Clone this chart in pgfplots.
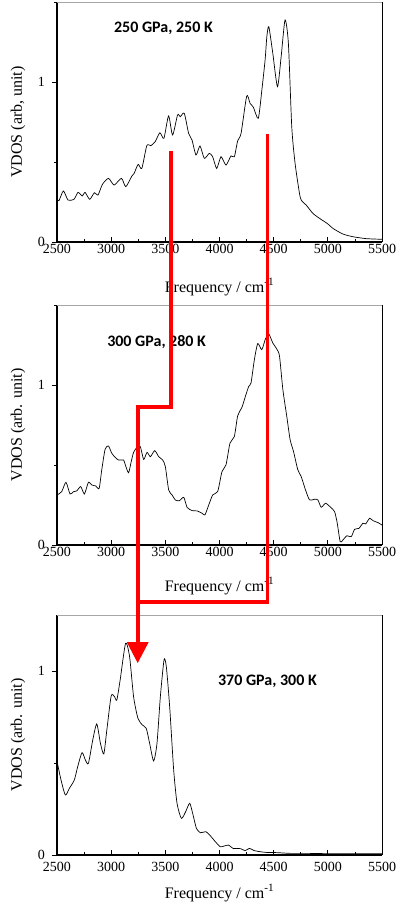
\documentclass[border=0pt]{standalone}
\usepackage{fontspec}
\setmainfont{Liberation Serif}
\newfontfamily\titlefont{Carlito}
\usepackage{pgfplots}
\pgfplotsset{compat=1.18}
\usepackage{pgfplotstable}

\pgfplotstableread{
f v
2500 0.267
2518 0.258
2559 0.319
2602 0.262
2657 0.267
2694 0.310
2734 0.288
2759 0.310
2802 0.267
2845 0.308
2879 0.294
2919 0.360
2975 0.398
3027 0.356
3095 0.398
3135 0.346
3191 0.412
3212 0.429
3249 0.485
3283 0.460
3329 0.602
3366 0.602
3406 0.627
3450 0.683
3487 0.648
3530 0.788
3567 0.669
3613 0.794
3638 0.783
3675 0.804
3715 0.679
3746 0.638
3783 0.544
3820 0.600
3860 0.523
3906 0.554
3937 0.533
3974 0.460
4014 0.533
4060 0.481
4106 0.538
4137 0.533
4168 0.633
4199 0.679
4251 0.912
4282 0.867
4313 0.842
4358 0.773
4391 0.950
4421 1.138
4437 1.283
4455 1.346
4492 1.179
4535 0.971
4569 1.158
4605 1.388
4636 1.240
4667 0.720
4698 0.490
4744 0.283
4775 0.246
4800 0.231
4862 0.179
4923 0.148
5000 0.113
5047 0.085
5139 0.050
5232 0.033
5355 0.021
5500 0.017
}\dataA

\pgfplotstableread{
f v
2500 0.313
2543 0.333
2583 0.392
2620 0.319
2651 0.333
2682 0.338
2719 0.365
2753 0.319
2790 0.392
2821 0.375
2858 0.369
2889 0.354
2913 0.469
2944 0.598
2975 0.619
3006 0.573
3037 0.548
3068 0.531
3114 0.531
3136 0.490
3161 0.452
3185 0.521
3207 0.579
3238 0.610
3269 0.615
3300 0.535
3331 0.579
3362 0.552
3402 0.590
3439 0.552
3476 0.531
3500 0.490
3531 0.344
3562 0.313
3593 0.281
3630 0.277
3670 0.298
3701 0.235
3748 0.215
3794 0.213
3840 0.198
3865 0.188
3890 0.230
3937 0.313
3983 0.334
4023 0.459
4060 0.501
4097 0.637
4137 0.678
4168 0.808
4208 0.862
4239 0.929
4270 0.992
4291 1.013
4322 1.159
4353 1.259
4390 1.221
4424 1.288
4455 1.319
4492 1.263
4532 1.221
4554 1.180
4585 0.971
4621 0.804
4652 0.658
4683 0.585
4723 0.470
4754 0.428
4794 0.344
4831 0.282
4877 0.286
4908 0.282
4939 0.236
4979 0.261
5025 0.236
5062 0.209
5087 0.136
5114 0.021
5139 0.031
5176 0.058
5216 0.052
5247 0.098
5287 0.104
5324 0.136
5349 0.132
5386 0.167
5417 0.152
5463 0.140
5500 0.125
}\dataB

\pgfplotstableread{
f v
2500 0.510
2537 0.408
2577 0.326
2614 0.362
2660 0.408
2691 0.480
2731 0.556
2762 0.516
2790 0.498
2830 0.625
2867 0.712
2901 0.607
2932 0.549
2960 0.679
3000 0.864
3031 0.860
3052 0.842
3083 0.951
3133 1.150
3170 1.078
3207 0.860
3247 0.743
3287 0.707
3324 0.688
3355 0.607
3392 0.511
3423 0.607
3454 0.860
3488 1.060
3509 1.024
3540 0.806
3577 0.462
3608 0.281
3648 0.199
3688 0.236
3725 0.281
3756 0.217
3787 0.145
3824 0.121
3873 0.127
3909 0.109
3962 0.072
4007 0.045
4044 0.049
4084 0.054
4124 0.036
4161 0.036
4197 0.034
4237 0.024
4277 0.036
4320 0.024
4375 0.018
4436 0.014
4528 0.013
4651 0.009
4804 0.009
5049 0.007
5500 0.007
}\dataC

\tikzset{ttl/.style={anchor=west, inner sep=0pt, font=\fontsize{16}{18}\selectfont\titlefont\bfseries}}

\pgfplotsset{vdos/.style={
  scale only axis, width=325pt, height=240pt,
  xmin=2500, xmax=5500, ymin=0,
  xtick={2500,3000,...,5500}, minor x tick num=1,
  ytick={0,1}, minor ytick={0.5,1.5},
  axis x line*=bottom, axis y line*=left,
  tickpos=left,
  axis line style={line width=1.1pt, -},
  xtick align=inside, ytick align=outside,
  major tick length=5pt, minor tick length=3pt,
  tick style={black, line width=0.8pt},
  clip=false,
  /pgf/number format/assume math mode=true,
  /pgf/number format/1000 sep={},
  scaled x ticks=false,
  xticklabel style={font=\fontsize{14}{15}\selectfont, inner sep=1.5pt},
  yticklabel style={font=\fontsize{14}{15}\selectfont, inner sep=1pt, xshift=-6pt},
  xlabel={Frequency / cm\textsuperscript{-1}},
  label style={font=\fontsize{16}{18}\selectfont},
  xlabel style={at={(axis description cs:0.5,-0.1875)}, anchor=center},
  ylabel style={at={(axis description cs:-0.12,0.5)}, anchor=center},
}}

\begin{document}
\begin{tikzpicture}
\useasboundingbox (0,0) rectangle (398pt,-907pt);

\begin{axis}[vdos, at={(57pt,-242pt)}, anchor=south west, ymax=1.5,
  ylabel={VDOS (arb, unit)}]
\addplot[black, line width=0.7pt, smooth, tension=0.4] table[x=f,y=v] {\dataA};
\draw[gray!70, line width=0.6pt] (rel axis cs:0,1) -- (rel axis cs:1,1);
\draw[black, line width=1pt] (rel axis cs:1,1) -- (rel axis cs:1,0);
\node[ttl] at (rel axis cs:0.175,0.892) {250 GPa, 250 K};
\coordinate (A1) at (axis cs:3555,0.57);
\coordinate (B1) at (axis cs:4442,0.677);
\end{axis}

\begin{axis}[vdos, at={(57pt,-545pt)}, anchor=south west, ymax=1.5,
  ylabel={VDOS (arb. unit)}, xlabel style={at={(axis description cs:0.5,-0.171)}}]
\addplot[black, line width=0.7pt, smooth, tension=0.4] table[x=f,y=v] {\dataB};
\draw[gray!70, line width=0.6pt] (rel axis cs:0,1) -- (rel axis cs:1,1);
\draw[black, line width=1pt] (rel axis cs:1,1) -- (rel axis cs:1,0);
\node[ttl] at (rel axis cs:0.154,0.846) {300 GPa, 280 K};
\coordinate (A2) at (axis cs:3555,0.864);
\coordinate (C2) at (axis cs:3245,0.864);
\coordinate (B2) at (axis cs:4442,-0.358);
\end{axis}

\begin{axis}[vdos, at={(57pt,-855pt)}, anchor=south west, ymax=1.304,
  ylabel={VDOS (arb. unit)}, xticklabel style={yshift=-5pt},
  xlabel style={at={(axis description cs:0.5,-0.158)}}]
\addplot[black, line width=0.7pt, smooth, tension=0.4] table[x=f,y=v] {\dataC};
\draw[gray!70, line width=0.6pt] (rel axis cs:0,1) -- (rel axis cs:1,1);
\draw[black, line width=1pt] (rel axis cs:1,1) -- (rel axis cs:1,0);
\node[ttl] at (rel axis cs:0.495,0.725) {370 GPa, 300 K};
\coordinate (T3) at (axis cs:3245,1.043);
\end{axis}

\draw[red, line width=3.6pt, line join=miter]
  (A1) -- (A2) -- (C2) -- ([yshift=20pt]T3);
\draw[red, line width=3.6pt, line join=miter]
  (B1) -- (B2) -- (B2 -| C2);
\fill[red] (T3) -- ([xshift=-11pt,yshift=21pt]T3) -- ([xshift=11pt,yshift=21pt]T3) -- cycle;
\end{tikzpicture}
\end{document}
